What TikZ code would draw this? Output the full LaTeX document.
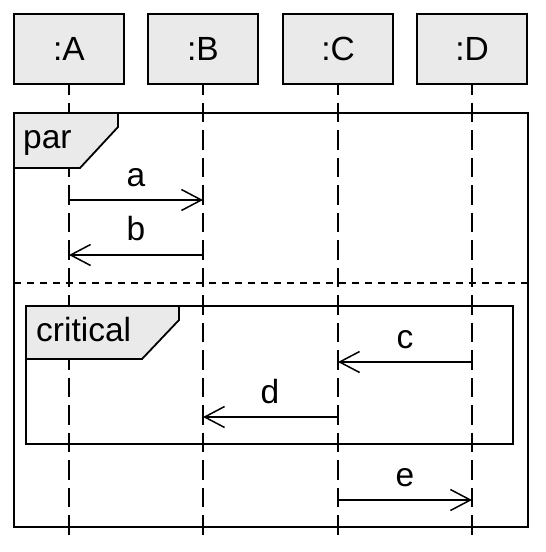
\documentclass[tikz,border=0pt]{standalone}
\usepackage{fontspec}
\setmainfont{Liberation Sans}
\usetikzlibrary{arrows.meta}
\definecolor{boxgray}{HTML}{EAEAEA}
\tikzset{
  actor/.style={draw, line width=1.8pt, fill=boxgray, minimum width=110pt, minimum height=70pt, inner sep=0pt, font=\fontsize{33.5}{40}\selectfont},
  lifeline/.style={line width=1.6pt, dash pattern=on 19.5pt off 8pt, dash phase=9.5pt},
  frameline/.style={line width=1.8pt},
  tagbox/.style={line width=1.8pt, fill=boxgray},
  sepline/.style={line width=1.5pt, dash pattern=on 7pt off 6pt},
  msg/.style={line width=1.5pt, -{Straight Barb[length=20pt, width=21pt, line width=1.5pt]}},
  lbl/.style={anchor=base, inner sep=0pt, font=\fontsize{33.5}{40}\selectfont},
  taglbl/.style={anchor=base west, inner sep=0pt, font=\fontsize{33.5}{40}\selectfont}
}
\begin{document}
\begin{tikzpicture}[x=1pt, y=-1pt]
\useasboundingbox (0,0) rectangle (546,552);
% actors
\node[actor] (A) at (69,49) {:A};
\node[actor] (B) at (203,49) {:B};
\node[actor] (C) at (338,49) {:C};
\node[actor] (D) at (472,49) {:D};
% lifeline ends
\coordinate (Aend) at (69,538);
\coordinate (Bend) at (203,538);
\coordinate (Cend) at (338,538);
\coordinate (Dend) at (472,538);
\draw[lifeline] (A.south) -- (Aend);
\draw[lifeline] (B.south) -- (Bend);
\draw[lifeline] (C.south) -- (Cend);
\draw[lifeline] (D.south) -- (Dend);
% par frame
\draw[frameline] (14,113) rectangle (528,527);
\draw[tagbox] (14,113) -- (118,113) -- (118,127) -- (80,168) -- (14,168) -- cycle;
\node[taglbl] (parlbl) at (23,148) {par};
\draw[sepline] (14,283) -- (528,283);
% critical frame
\draw[frameline] (26,306) rectangle (513,444);
\draw[tagbox] (26,306) -- (179,306) -- (179,320) -- (142,359) -- (26,359) -- cycle;
\node[taglbl] (critlbl) at (36,341) {critical};
% message points
\coordinate (a1) at (69,200); \coordinate (a2) at (203,200);
\coordinate (b1) at (203,255); \coordinate (b2) at (69,255);
\coordinate (c1) at (472,362); \coordinate (c2) at (338,362);
\coordinate (d1) at (338,417); \coordinate (d2) at (203,417);
\coordinate (e1) at (338,500); \coordinate (e2) at (472,500);
\draw[msg] (a1) -- (a2);
\draw[msg] (b1) -- (b2);
\draw[msg] (c1) -- (c2);
\draw[msg] (d1) -- (d2);
\draw[msg] (e1) -- (e2);
\node[lbl] (la) at (136,186) {a};
\node[lbl] (lb) at (136,240) {b};
\node[lbl] (lc) at (405,348) {c};
\node[lbl] (ld) at (270,403) {d};
\node[lbl] (le) at (405,486) {e};
\end{tikzpicture}
\end{document}
